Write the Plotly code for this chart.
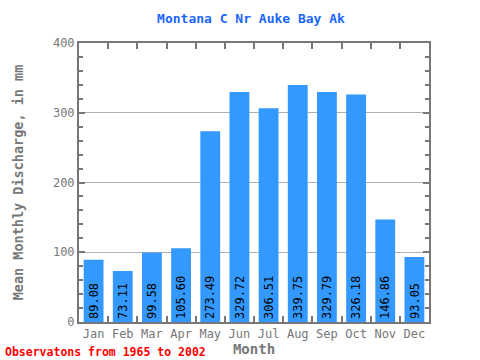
import plotly.graph_objects as go

months = ["Jan", "Feb", "Mar", "Apr", "May", "Jun", "Jul", "Aug", "Sep", "Oct", "Nov", "Dec"]
discharge = [89.08, 73.11, 99.58, 105.60, 273.49, 329.72, 306.51, 339.75, 329.79, 326.18, 146.86, 93.05]
labels = ["%.2f" % v for v in discharge]

font_family = "DejaVu Sans Mono"
gray = "#777777"

fig = go.Figure()
fig.add_trace(go.Bar(
    x=months, y=discharge, text=labels,
    textposition="inside", insidetextanchor="start", textangle=-90,
    textfont=dict(family=font_family, size=13, color="black"),
    marker=dict(color="#3399ff", line=dict(width=0)),
    width=0.68, hoverinfo="x+y",
))

fig.update_layout(
    width=480, height=360,
    margin=dict(l=79, r=51, t=43, b=38, autoexpand=False),
    paper_bgcolor="white", plot_bgcolor="white",
    showlegend=False,
    uniformtext=dict(mode="show", minsize=8),
    title=dict(text="<b>Montana C Nr Auke Bay Ak</b>", x=251/480, xanchor="center",
               y=1 - 18/360, yanchor="middle",
               font=dict(family=font_family, size=13, color="#1a66ff")),
    font=dict(family=font_family, color=gray),
)
fig.update_xaxes(
    automargin=False, tickangle=0,
    showline=True, linecolor=gray, linewidth=2, mirror="allticks",
    ticks="inside", tickson="boundaries", ticklen=6, tickcolor=gray, tickwidth=2,
    tickfont=dict(family=font_family, size=12, color=gray),
    title=dict(text="<b>Month</b>", font=dict(family=font_family, size=14, color=gray), standoff=2),
    showgrid=False,
)
fig.update_yaxes(
    automargin=False,
    range=[0, 400], dtick=100,
    showline=True, linecolor=gray, linewidth=2, mirror="allticks",
    ticks="inside", ticklen=6, tickcolor=gray, tickwidth=2,
    minor=dict(dtick=20, ticks="inside", ticklen=4, tickcolor=gray, showgrid=False),
    tickfont=dict(family=font_family, size=12, color=gray),
    showgrid=True, gridcolor="#b0b0b0", gridwidth=1,
    layer="above traces",
    title=dict(text="<b>Mean Monthly Discharge, in mm</b>", font=dict(family=font_family, size=13.5, color=gray), standoff=26),
    zeroline=False,
)
fig.add_annotation(text="<b>Observatons from 1965 to 2002</b>", xref="paper", yref="paper",
                   x=-76/350, y=-(352 - 322)/279, xanchor="left", yanchor="middle", showarrow=False,
                   font=dict(family=font_family, size=11.5, color="red"))
fig.write_html("out.html", config={"displayModeBar": False},
               post_script="document.body.style.margin='0';document.body.style.overflow='hidden';")
